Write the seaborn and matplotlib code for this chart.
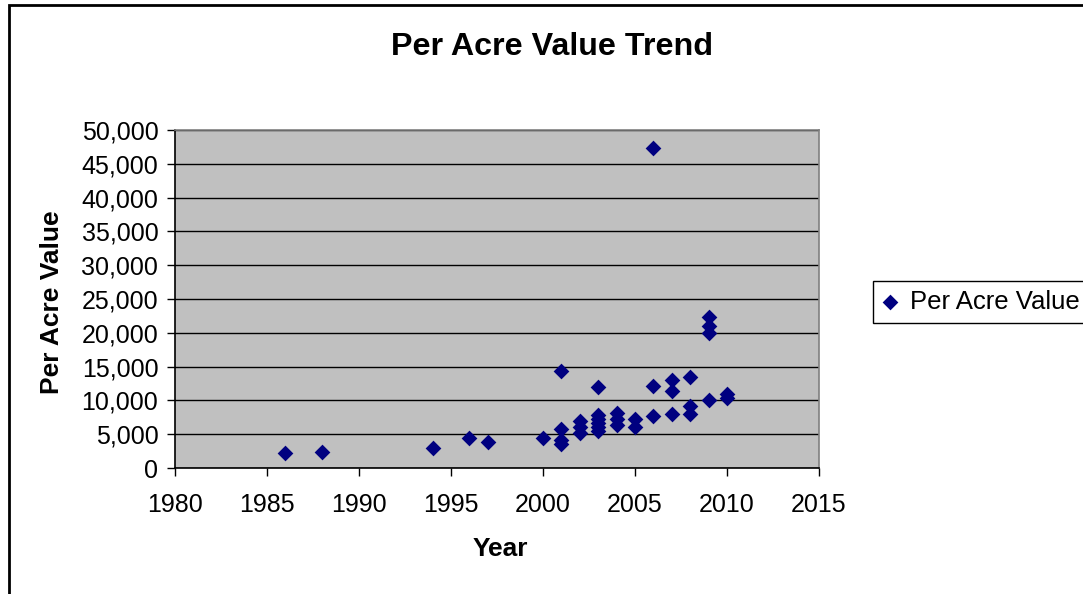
import matplotlib
matplotlib.use("Agg")
import matplotlib.pyplot as plt
import matplotlib.ticker as mticker
from matplotlib.patches import Rectangle
import pandas as pd
import seaborn as sns

# Data
years = [1986, 1988, 1994, 1996, 1997, 2000,
         2001, 2001, 2001, 2001,
         2002, 2002, 2002,
         2003, 2003, 2003, 2003, 2003, 2003,
         2004, 2004, 2004,
         2005, 2005,
         2006, 2006, 2006,
         2007, 2007, 2007,
         2008, 2008, 2008,
         2009, 2009, 2009, 2009,
         2010, 2010]
values = [2150, 2400, 2900, 4450, 3800, 4400,
          14400, 5700, 4100, 3500,
          6900, 6000, 5200,
          12050, 7800, 7200, 6600, 6000, 5500,
          8200, 7300, 6300,
          7200, 6100,
          47300, 12200, 7700,
          13000, 11400, 8000,
          13500, 9200, 8000,
          22400, 21000, 20000, 10000,
          10900, 10300]
x_ticks = [1980, 1985, 1990, 1995, 2000, 2005, 2010, 2015]
y_ticks = list(range(0, 50001, 5000))

df = pd.DataFrame({'Year': years, 'Per Acre Value': values})

plt.rcParams['font.family'] = ['Liberation Sans', 'DejaVu Sans']

fig = plt.figure(figsize=(10.83, 5.94), dpi=100)
ax = fig.add_axes([175 / 1083, 1 - 468 / 594, 644 / 1083, 338 / 594])
ax.set_facecolor('#C0C0C0')

sns.scatterplot(data=df, x='Year', y='Per Acre Value', marker='D', s=64,
                color='#000080', edgecolor='#000080', linewidth=0,
                label='Per Acre Value', ax=ax, zorder=3)

ax.set_xlim(1980, 2015)
ax.set_ylim(0, 50000)
ax.set_xticks(x_ticks)
ax.set_yticks(y_ticks)
ax.yaxis.set_major_formatter(mticker.StrMethodFormatter('{x:,.0f}'))
ax.yaxis.grid(True, color='black', linewidth=1)
ax.set_axisbelow(True)
ax.tick_params(direction='out', length=6, width=1, color='black',
               labelsize=18, pad=6)
ax.tick_params(axis='x', pad=12)

for side in ['left', 'bottom']:
    ax.spines[side].set_color('black')
    ax.spines[side].set_linewidth(1.2)
for side in ['top', 'right']:
    ax.spines[side].set_color('#808080')
    ax.spines[side].set_linewidth(1.2)

ax.set_xlabel('Year', fontsize=19, fontweight='bold')
ax.xaxis.set_label_coords(0.505, -0.205)
ax.set_ylabel('Per Acre Value', fontsize=19, fontweight='bold')
ax.yaxis.set_label_coords(-0.172, 0.49)

fig.text(0.51, 1 - 47 / 594, 'Per Acre Value Trend', ha='center', va='center',
         fontsize=23.2, fontweight='bold')

leg = ax.legend(loc='center left', bbox_to_anchor=(873 / 1083, 1 - 302 / 594),
                bbox_transform=fig.transFigure, fontsize=18.5, frameon=True,
                fancybox=False, edgecolor='black', framealpha=1,
                handlelength=0.6, handletextpad=0.5, borderpad=0.35,
                borderaxespad=0)
leg.get_frame().set_linewidth(1)

# outer chart border (only left and top visible in the reference)
fig.patches.append(Rectangle((9 / 1083, -0.1), 1.5, 1.1 - 5 / 594, fill=False,
                             edgecolor='black', linewidth=2,
                             transform=fig.transFigure, figure=fig))

fig.savefig('out.png', dpi=100)
